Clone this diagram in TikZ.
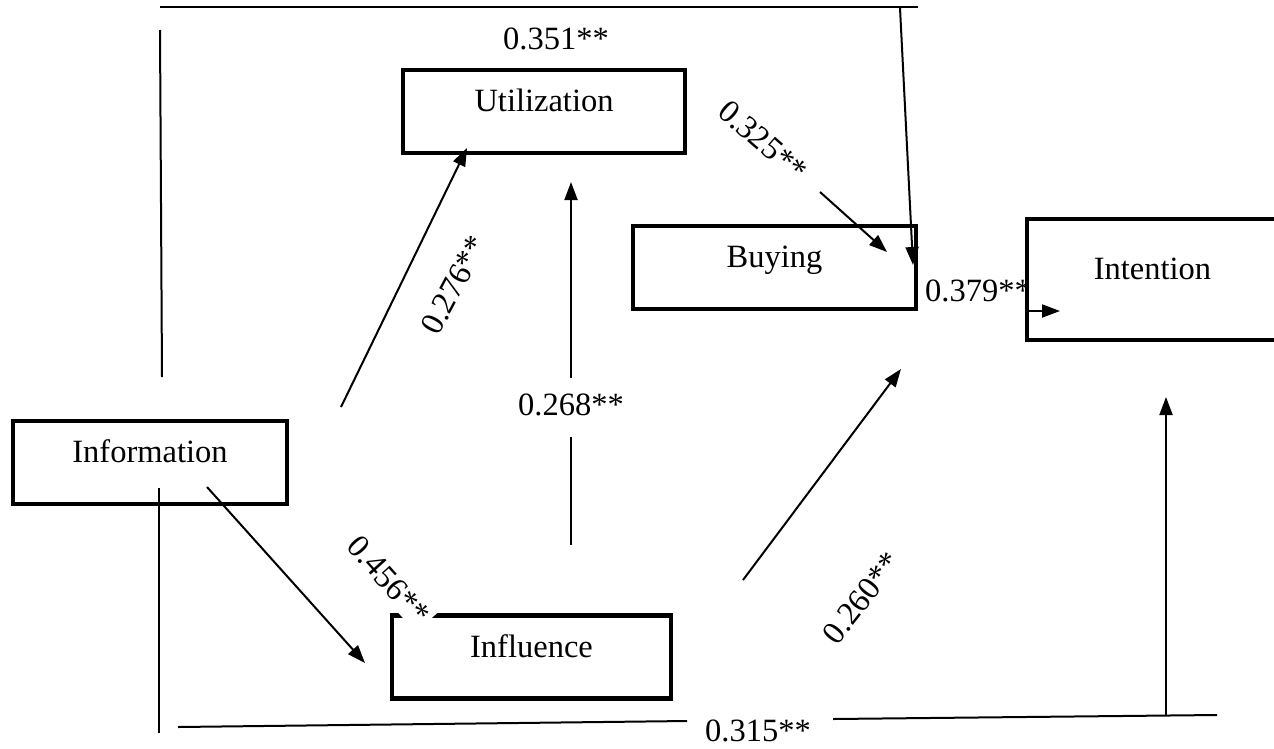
\documentclass[tikz,border=0pt]{standalone}
\usepackage{fontspec}
\setmainfont{Liberation Serif}
\usetikzlibrary{arrows.meta}

\begin{document}
\begin{tikzpicture}[x=1pt, y=-1pt, font=\fontsize{32.5}{39}\selectfont,
  construct/.style={draw, line width=4.7pt, inner sep=0pt,
  text height=22pt, text depth=22pt, minimum height=83pt},
  coef/.style={inner sep=4pt},
  link/.style={line width=2pt},
  arrow/.style={link, -{Triangle[length=18pt,width=13pt]}}]
\useasboundingbox (0,0) rectangle (1274,748);
        % constructs
        \node[construct, minimum width=282pt] (util) at (544,111.5) {Utilization};
        \node[construct, minimum width=283pt] (buy) at (774.5,267.5) {Buying};
        \node[construct, minimum width=251pt, minimum height=121pt] (intent) at (1152.5,279.5) {Intention};
        \node[construct, minimum width=274pt] (info) at (150,462.5) {Information};
        \node[construct, minimum width=279pt] (infl) at (531.5,657) {Influence};
        % end points of the paths
        \coordinate (infoUtilA) at (341,407);   \coordinate (infoUtilB) at (467,148);
        \coordinate (infoInflA) at (207,487);   \coordinate (infoInflB) at (365,663);
        \coordinate (inflUtilA) at (571,545);   \coordinate (inflUtilB) at (571,437);
        \coordinate (inflUtilC) at (571,378);   \coordinate (inflUtilD) at (571,182);
        \coordinate (utilBuyA) at (820,192);    \coordinate (utilBuyB) at (887,252);
        \coordinate (inflBuyA) at (743,580);    \coordinate (inflBuyB) at (901,369);
        \coordinate (buyIntA) at (1025,311);    \coordinate (buyIntB) at (1060,311);
        \coordinate (infoBuyA) at (162,377);    \coordinate (infoBuyB) at (160,30);
        \coordinate (infoBuyC) at (160,7);      \coordinate (infoBuyD) at (918,7);
        \coordinate (infoBuyE) at (900,8);      \coordinate (infoBuyF) at (913,265);
        \coordinate (infoIntA) at (159,488);    \coordinate (infoIntB) at (159,733);
        \coordinate (infoIntC) at (178,727);    \coordinate (infoIntD) at (687,721);
        \coordinate (infoIntE) at (833,719);    \coordinate (infoIntF) at (1217,715);
        \coordinate (infoIntG) at (1166,715);   \coordinate (infoIntH) at (1166,397);
        % paths
        \draw[arrow] (infoUtilA) -- (infoUtilB);
        \draw[arrow] (infoInflA) -- (infoInflB);
        \draw[link] (inflUtilA) -- (inflUtilB);
        \draw[arrow] (inflUtilC) -- (inflUtilD);
        \draw[arrow] (utilBuyA) -- (utilBuyB);
        \draw[arrow] (inflBuyA) -- (inflBuyB);
        \draw[arrow] (buyIntA) -- (buyIntB);
        \draw[link] (infoBuyA) -- (infoBuyB);
        \draw[link] (infoBuyC) -- (infoBuyD);
        \draw[arrow] (infoBuyE) -- (infoBuyF);
        \draw[link] (infoIntA) -- (infoIntB);
        \draw[link] (infoIntC) -- (infoIntD);
        \draw[link] (infoIntE) -- (infoIntF);
        \draw[arrow] (infoIntG) -- (infoIntH);
        % coefficients
        \node[coef] (c351) at (556,39) {0.351**};
        \node[coef, rotate=62] (c276) at (454,285) {0.276**};
        \node[coef] (c268) at (571,405) {0.268**};
        \node[coef, rotate=-41] (c325) at (763,141) {0.325**};
        \node[coef] (c379) at (978,291) {0.379**};
        \node[coef, rotate=-48, fill=white] (c456) at (389,580) {0.456**};
        \node[coef, rotate=52] (c260) at (862,598) {0.260**};
        \node[coef] (c315) at (758,731) {0.315**};
\end{tikzpicture}
\end{document}
